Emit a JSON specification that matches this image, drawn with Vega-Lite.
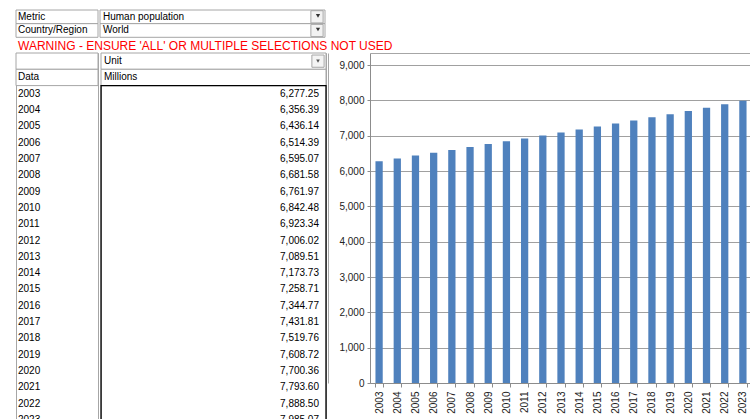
{
  "$schema": "https://vega.github.io/schema/vega-lite/v6.json",
  "background": "white",
  "padding": {"left": 15, "top": 8, "right": 0, "bottom": 0},
  "config": {
    "font": "Liberation Sans",
    "view": {"stroke": null},
    "axis": {"labelFont": "Liberation Sans"}
  },
  "datasets": {
    "pop": [
      {"year": "2003", "value": 6277.25},
      {"year": "2004", "value": 6356.39},
      {"year": "2005", "value": 6436.14},
      {"year": "2006", "value": 6514.39},
      {"year": "2007", "value": 6595.07},
      {"year": "2008", "value": 6681.58},
      {"year": "2009", "value": 6761.97},
      {"year": "2010", "value": 6842.48},
      {"year": "2011", "value": 6923.34},
      {"year": "2012", "value": 7006.02},
      {"year": "2013", "value": 7089.51},
      {"year": "2014", "value": 7173.73},
      {"year": "2015", "value": 7258.71},
      {"year": "2016", "value": 7344.77},
      {"year": "2017", "value": 7431.81},
      {"year": "2018", "value": 7519.76},
      {"year": "2019", "value": 7608.72},
      {"year": "2020", "value": 7700.36},
      {"year": "2021", "value": 7793.60},
      {"year": "2022", "value": 7888.50},
      {"year": "2023", "value": 7985.07}
    ],
    "hdr": [
      {"r": "Metric", "label": "Metric", "val": "Human population"},
      {"r": "Country/Region", "label": "Country/Region", "val": "World"}
    ],
    "warn": [
      {"r": "warn", "label": "WARNING - ENSURE 'ALL' OR MULTIPLE SELECTIONS NOT USED"}
    ],
    "tblhead": [
      {"r": "Unit", "label": "", "val": "Unit"},
      {"r": "Data", "label": "Data", "val": "Millions"}
    ]
  },
  "spacing": 0,
  "vconcat": [
    {
      "spacing": 0,
      "hconcat": [
        {
          "width": 82,
          "height": 27.3,
          "data": {"name": "hdr"},
          "layer": [
            {
              "mark": {"type": "rect", "fill": "white", "stroke": "#a6a6a6", "strokeWidth": 1},
              "encoding": {
                "y": {"field": "r", "type": "ordinal", "scale": {"domain": ["Metric", "Country/Region"], "paddingInner": 0, "paddingOuter": 0}, "axis": null},
                "x": {"datum": 0, "type": "quantitative", "scale": {"domain": [0, 1]}, "axis": null},
                "x2": {"datum": 1}
              }
            },
            {
              "mark": {"type": "text", "align": "left", "dx": 2, "fontSize": 10, "color": "#000"},
              "encoding": {
                "y": {"field": "r", "type": "ordinal", "axis": null},
                "x": {"datum": 0, "type": "quantitative", "axis": null},
                "text": {"field": "label"}
              }
            }
          ]
        },
        {
          "width": 225,
          "height": 27.3,
          "data": {"name": "hdr"},
          "layer": [
            {
              "mark": {"type": "rect", "fill": "white", "stroke": "#a6a6a6", "strokeWidth": 1},
              "encoding": {
                "y": {"field": "r", "type": "ordinal", "scale": {"domain": ["Metric", "Country/Region"], "paddingInner": 0, "paddingOuter": 0}, "axis": null},
                "x": {"datum": 0, "type": "quantitative", "scale": {"domain": [0, 1]}, "axis": null},
                "x2": {"datum": 1}
              }
            },
            {
              "mark": {"type": "text", "align": "left", "dx": 3, "fontSize": 10, "color": "#000"},
              "encoding": {
                "y": {"field": "r", "type": "ordinal", "axis": null},
                "x": {"datum": 0, "type": "quantitative", "axis": null},
                "text": {"field": "val"}
              }
            },
            {
              "mark": {"type": "point", "shape": "square", "filled": true, "fill": "#f2f2f2", "stroke": "#a6a6a6", "strokeWidth": 1, "size": 150, "opacity": 1, "xOffset": -8},
              "encoding": {
                "y": {"field": "r", "type": "ordinal", "axis": null},
                "x": {"datum": 1, "type": "quantitative", "axis": null}
              }
            },
            {
              "mark": {"type": "point", "shape": "triangle-down", "filled": true, "fill": "#333", "strokeWidth": 0, "size": 18, "opacity": 1, "xOffset": -7, "yOffset": -1},
              "encoding": {
                "y": {"field": "r", "type": "ordinal", "axis": null},
                "x": {"datum": 1, "type": "quantitative", "axis": null}
              }
            }
          ]
        }
      ]
    },
    {
      "width": 309,
      "height": 11,
      "data": {"name": "warn"},
      "mark": {"type": "text", "align": "left", "dx": 2, "fontSize": 12, "color": "#ff0000"},
      "encoding": {
        "y": {"field": "r", "type": "ordinal", "scale": {"paddingInner": 0, "paddingOuter": 0}, "axis": null},
        "x": {"datum": 0, "type": "quantitative", "scale": {"domain": [0, 1]}, "axis": null},
        "text": {"field": "label"}
      }
    },
    {
      "spacing": 0,
      "hconcat": [
        {
          "spacing": 0,
          "hconcat": [
            {
              "width": 82,
              "height": 375,
              "view": {"stroke": "#a6a6a6"},
              "layer": [
                {
                  "data": {"name": "tblhead"},
                  "mark": {"type": "rect", "fill": "white", "stroke": "#a6a6a6", "strokeWidth": 1},
                  "encoding": {
                    "y": {"field": "r", "type": "ordinal", "scale": {"domain": ["Unit", "Data", "2003", "2004", "2005", "2006", "2007", "2008", "2009", "2010", "2011", "2012", "2013", "2014", "2015", "2016", "2017", "2018", "2019", "2020", "2021", "2022", "2023"], "paddingInner": 0, "paddingOuter": 0}, "axis": null},
                    "x": {"datum": 0, "type": "quantitative", "scale": {"domain": [0, 1]}, "axis": null},
                    "x2": {"datum": 1}
                  }
                },
                {
                  "data": {"name": "tblhead"},
                  "mark": {"type": "text", "align": "left", "dx": 2, "fontSize": 10, "color": "#000"},
                  "encoding": {
                    "y": {"field": "r", "type": "ordinal", "axis": null},
                    "x": {"datum": 0, "type": "quantitative", "axis": null},
                    "text": {"field": "label"}
                  }
                },
                {
                  "data": {"name": "pop"},
                  "mark": {"type": "text", "align": "left", "dx": 2, "fontSize": 10, "color": "#000"},
                  "encoding": {
                    "y": {"field": "year", "type": "ordinal", "axis": null},
                    "x": {"datum": 0, "type": "quantitative", "axis": null},
                    "text": {"field": "year"}
                  }
                }
              ]
            },
            {
              "width": 225,
              "height": 375,
              "view": {"stroke": "#a6a6a6"},
              "layer": [
                {
                  "data": {"name": "tblhead"},
                  "mark": {"type": "rect", "fill": "white", "stroke": "#a6a6a6", "strokeWidth": 1},
                  "encoding": {
                    "y": {"field": "r", "type": "ordinal", "scale": {"domain": ["Unit", "Data", "2003", "2004", "2005", "2006", "2007", "2008", "2009", "2010", "2011", "2012", "2013", "2014", "2015", "2016", "2017", "2018", "2019", "2020", "2021", "2022", "2023"], "paddingInner": 0, "paddingOuter": 0}, "axis": null},
                    "x": {"datum": 0, "type": "quantitative", "scale": {"domain": [0, 1]}, "axis": null},
                    "x2": {"datum": 1}
                  }
                },
                {
                  "data": {"name": "tblhead"},
                  "mark": {"type": "text", "align": "left", "dx": 3, "fontSize": 10, "color": "#000"},
                  "encoding": {
                    "y": {"field": "r", "type": "ordinal", "axis": null},
                    "x": {"datum": 0, "type": "quantitative", "axis": null},
                    "text": {"field": "val"}
                  }
                },
                {
                  "data": {"name": "tblhead"},
                  "transform": [{"filter": "datum.r == 'Unit'"}],
                  "mark": {"type": "point", "shape": "square", "filled": true, "fill": "#f4f4f4", "stroke": "#a6a6a6", "strokeWidth": 1, "size": 150, "opacity": 1, "xOffset": -8},
                  "encoding": {
                    "y": {"field": "r", "type": "ordinal", "axis": null},
                    "x": {"datum": 1, "type": "quantitative", "axis": null}
                  }
                },
                {
                  "data": {"name": "tblhead"},
                  "transform": [{"filter": "datum.r == 'Unit'"}],
                  "mark": {"type": "point", "shape": "triangle-down", "filled": true, "fill": "#555", "strokeWidth": 0, "size": 14, "opacity": 1, "xOffset": -8},
                  "encoding": {
                    "y": {"field": "r", "type": "ordinal", "axis": null},
                    "x": {"datum": 1, "type": "quantitative", "axis": null}
                  }
                },
                {
                  "data": {"name": "pop"},
                  "transform": [{"filter": "datum.year == '2003'"}],
                  "mark": {"type": "rect", "fill": "transparent", "stroke": "#000", "strokeWidth": 1.3, "yOffset": -8.15, "y2Offset": 20},
                  "encoding": {
                    "y": {"field": "year", "type": "ordinal", "axis": null},
                    "y2": {"datum": "2023"},
                    "x": {"datum": 0, "type": "quantitative", "axis": null},
                    "x2": {"datum": 1}
                  }
                },
                {
                  "data": {"name": "pop"},
                  "mark": {"type": "text", "align": "right", "dx": -7, "fontSize": 10, "color": "#000"},
                  "encoding": {
                    "y": {"field": "year", "type": "ordinal", "axis": null},
                    "x": {"datum": 1, "type": "quantitative", "axis": null},
                    "text": {"field": "value", "type": "quantitative", "format": ",.2f"}
                  }
                }
              ]
            }
          ]
        },
        {
          "width": 382,
          "height": 330,
          "data": {"name": "pop"},
          "layer": [
            {
              "mark": {"type": "bar", "color": "#4F81BD"},
              "encoding": {
                "x": {
                  "field": "year", "type": "ordinal",
                  "scale": {"paddingInner": 0.6, "paddingOuter": 0.3},
                  "axis": {"orient": "bottom", "title": null, "labelAngle": -90, "labelFontSize": 10, "labelColor": "#222", "labelPadding": 4, "tickSize": 4, "tickColor": "#8c8c8c", "domainColor": "#8c8c8c", "tickBand": "extent", "grid": false}
                },
                "y": {
                  "field": "value", "type": "quantitative",
                  "scale": {"domain": [0, 9340], "nice": false},
                  "axis": {"title": null, "values": [0, 1000, 2000, 3000, 4000, 5000, 6000, 7000, 8000, 9000], "format": ",.0f", "labelFontSize": 10, "labelColor": "#222", "tickSize": 3, "tickColor": "#8c8c8c", "domainColor": "#8c8c8c", "gridColor": "#a0a0a0", "labelPadding": 3}
                }
              }
            },
            {
              "mark": {"type": "bar", "opacity": 0},
              "encoding": {
                "x": {"field": "year", "type": "ordinal", "axis": {"orient": "top", "offset": 0, "labels": false, "ticks": false, "grid": false, "domainColor": "#a6a6a6", "title": null}},
                "y": {"field": "value", "type": "quantitative", "axis": {"orient": "left", "offset": 42, "labels": false, "ticks": false, "grid": false, "domainColor": "#a6a6a6", "title": null}}
              }
            }
          ],
          "resolve": {"axis": {"x": "independent", "y": "independent"}}
        }
      ]
    }
  ]
}
